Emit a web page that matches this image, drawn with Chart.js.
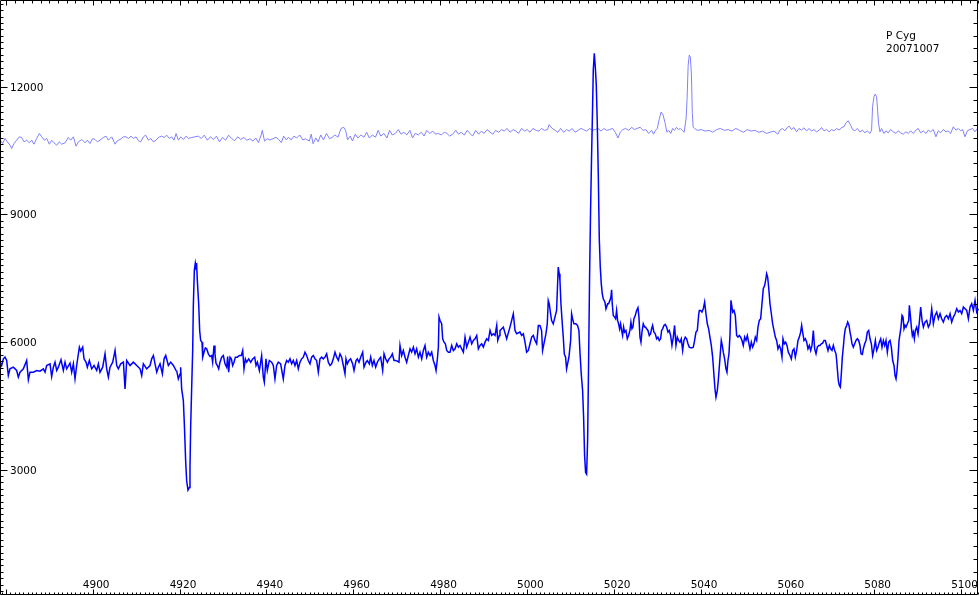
<!DOCTYPE html>
<html>
<head>
<meta charset="utf-8">
<title>P Cyg 20071007</title>
<script src="https://cdn.jsdelivr.net/npm/chart.js@4.4.1/dist/chart.umd.min.js"></script>
<style>
  html, body { margin: 0; padding: 0; background: #fff; }
  #wrap { width: 979px; height: 596px; }
</style>
</head>
<body>
<div id="wrap"><canvas id="chart-spec" width="979" height="596"></canvas></div>
<script>
// P Cyg spectrum (dark) and reference spectrum (light), wavelength in A, counts
const darkWave = [
  4878.65, 4879.03, 4879.42, 4879.80, 4880.19, 4880.57, 4880.95, 4881.72, 4882.49, 4882.87,
  4883.26, 4884.03, 4884.79, 4885.18, 4885.56, 4886.33, 4887.10, 4887.87, 4888.63, 4889.02,
  4889.40, 4890.17, 4890.55, 4890.94, 4891.32, 4891.71, 4892.09, 4892.70, 4893.24, 4893.63,
  4894.01, 4894.78, 4895.16, 4895.55, 4895.93, 4896.31, 4896.93, 4897.24, 4897.70, 4898.00,
  4898.46, 4898.77, 4899.23, 4899.77, 4900.31, 4900.92, 4901.31, 4901.69, 4902.30, 4902.84,
  4903.23, 4903.61, 4903.99, 4904.61, 4905.15, 4905.53, 4905.91, 4906.45, 4907.07, 4907.45,
  4907.83, 4908.60, 4909.37, 4910.14, 4910.91, 4911.29, 4911.67, 4912.44, 4913.21, 4913.59,
  4913.98, 4914.36, 4914.75, 4915.13, 4915.51, 4916.05, 4916.44, 4916.82, 4917.43, 4917.97,
  4918.59, 4919.20,
  4919.34, 4919.72, 4920.11, 4920.26, 4920.49, 4920.88, 4921.11, 4921.41, 4921.64, 4921.95,
  4922.26, 4922.41, 4922.57, 4922.80, 4923.03, 4923.18, 4923.41, 4923.64, 4923.79, 4923.95,
  4924.10, 4924.41, 4924.64, 4924.87, 4925.18, 4925.33, 4925.64, 4925.94, 4926.25, 4926.64,
  4927.02, 4927.40, 4927.63, 4927.94, 4928.17, 4928.40, 4928.71, 4929.02, 4929.32, 4929.71,
  4930.09, 4930.48, 4930.86, 4931.09, 4931.32, 4931.63, 4931.94, 4932.24, 4932.55, 4932.86,
  4933.32, 4933.78, 4934.24, 4934.55, 4934.85, 4935.16, 4935.47, 4935.93, 4936.39, 4936.85,
  4937.31, 4937.62, 4937.93, 4938.39,
  4938.91, 4939.30, 4939.53, 4939.91, 4940.22, 4940.68, 4941.22, 4941.60, 4941.98, 4942.37,
  4942.75, 4943.29, 4943.90, 4944.29, 4944.67, 4945.06, 4945.44, 4945.82, 4946.21, 4946.59,
  4946.98, 4947.36, 4947.74, 4948.13, 4948.51, 4948.90, 4949.28, 4949.66, 4950.05, 4950.43,
  4950.82, 4951.20, 4951.58, 4951.97, 4952.35, 4952.74, 4953.12, 4953.50, 4953.89, 4954.27,
  4954.66, 4955.04, 4955.42, 4955.81, 4956.19, 4956.58, 4956.96, 4957.34, 4957.73, 4958.11,
  4958.34, 4958.65, 4959.03, 4959.42, 4959.88, 4960.19, 4960.65, 4960.95, 4961.34, 4961.72,
  4962.18, 4962.49, 4962.95, 4963.26, 4963.72, 4964.03, 4964.41, 4964.79, 4965.18, 4965.56,
  4966.02, 4966.33, 4966.79, 4967.10, 4967.48, 4967.87, 4968.25, 4968.63, 4969.02, 4969.40,
  4969.79, 4970.17, 4970.55, 4970.78, 4971.17, 4971.55, 4971.94, 4972.32, 4972.70, 4973.09,
  4973.47, 4973.86, 4974.24, 4974.62, 4975.01, 4975.39, 4975.78, 4976.16, 4976.54, 4976.93,
  4977.31, 4977.70, 4978.08, 4978.46, 4978.85, 4979.08, 4979.39, 4979.62, 4979.77, 4980.00,
  4980.38, 4980.61, 4980.92, 4981.23, 4981.54, 4981.92, 4982.30, 4982.69, 4983.07, 4983.46,
  4983.84, 4984.22, 4984.61, 4984.99, 4985.38, 4985.76, 4986.14, 4986.53, 4986.91, 4987.30,
  4987.68, 4988.06, 4988.45, 4988.83, 4989.22, 4989.60, 4989.98, 4990.37, 4990.75, 4991.14,
  4991.52, 4991.90, 4992.29, 4992.67, 4993.06, 4993.29, 4993.67,
  4993.81, 4994.58, 4995.35, 4996.11, 4996.88, 4997.27, 4997.65, 4998.42, 4998.80, 4999.19,
  4999.57, 4999.95, 5000.34, 5000.72, 5001.11, 5001.49, 5001.87, 5002.26, 5002.64,
  5003.01, 5003.39, 5003.62, 5003.93, 5004.39, 5004.70, 5004.93, 5005.16, 5005.47, 5005.70,
  5006.08, 5006.47, 5006.85, 5007.08, 5007.23, 5007.46, 5007.62, 5007.85, 5008.16, 5008.39,
  5008.62, 5008.92, 5009.15, 5009.38, 5009.69, 5010.08, 5010.31, 5010.54, 5010.84, 5011.30,
  5011.69, 5011.99, 5012.23, 5012.53, 5012.84, 5013.07, 5013.30, 5013.53, 5013.76, 5013.99,
  5014.22, 5014.45, 5014.68, 5014.91, 5015.14, 5015.30, 5015.53, 5015.76, 5015.99, 5016.22,
  5016.45, 5016.68, 5016.91, 5017.14, 5017.37, 5017.60, 5017.99, 5018.22,
  5018.37, 5018.60, 5018.83, 5019.13, 5019.36, 5019.52, 5019.67, 5019.90, 5020.21, 5020.44,
  5020.67, 5020.90, 5021.13, 5021.36, 5021.59, 5021.82, 5022.05, 5022.28, 5022.51, 5022.82,
  5023.13, 5023.43, 5023.74, 5023.97, 5024.20, 5024.43, 5024.66, 5024.97, 5025.28, 5025.59,
  5025.82, 5026.05, 5026.28, 5026.51, 5026.81, 5027.12, 5027.35, 5027.58, 5027.89, 5028.20,
  5028.50, 5028.73, 5028.96, 5029.27, 5029.58, 5029.89, 5030.19, 5030.50, 5030.81, 5031.04,
  5031.27, 5031.58, 5031.88, 5032.19, 5032.50, 5032.80, 5033.11, 5033.42, 5033.73, 5034.03,
  5034.34, 5034.65, 5034.95, 5035.26, 5035.57, 5035.88, 5036.18, 5036.49, 5036.80, 5037.11,
  5037.41, 5037.72, 5038.03, 5038.33, 5038.64, 5038.95, 5039.26, 5039.56, 5039.72, 5040.02,
  5040.33, 5040.64, 5040.95, 5041.25, 5041.56, 5041.87, 5042.17, 5042.48, 5042.79, 5043.10,
  5043.33, 5043.56, 5043.86, 5044.09, 5044.32, 5044.55, 5044.78, 5045.01, 5045.24, 5045.55,
  5045.86, 5046.09, 5046.32, 5046.55, 5046.78, 5047.01, 5047.24, 5047.40, 5047.70, 5048.01,
  5048.32, 5048.63, 5048.93, 5049.24, 5049.55, 5049.85, 5050.16, 5050.47, 5050.78, 5051.08,
  5051.39, 5051.70, 5052.00, 5052.31, 5052.62, 5052.93, 5053.23, 5053.54, 5053.85, 5054.15,
  5054.46, 5054.77, 5055.00, 5055.23, 5055.46, 5055.69, 5056.00, 5056.31, 5056.61, 5056.92,
  5057.23, 5057.53, 5057.84, 5058.15, 5058.46, 5058.76, 5058.99, 5059.30, 5059.61, 5059.91,
  5060.22, 5060.61, 5060.91, 5061.22, 5061.53, 5061.83, 5062.14, 5062.45, 5062.76, 5063.06,
  5063.29, 5063.52, 5063.83, 5064.14, 5064.45, 5064.75, 5065.06, 5065.37, 5065.67, 5065.98,
  5066.29, 5066.60, 5066.90, 5067.21, 5067.52, 5067.82, 5068.13, 5068.44, 5068.75, 5069.05,
  5069.36, 5069.67, 5069.97, 5070.28, 5070.59, 5070.90, 5071.20, 5071.36, 5071.51, 5071.74,
  5071.97, 5072.20, 5072.43, 5072.66, 5072.89, 5073.12, 5073.35, 5073.66, 5073.89, 5074.20,
  5074.43, 5074.66, 5074.89, 5075.20, 5075.50, 5075.81, 5076.12, 5076.43, 5076.73, 5076.96,
  5077.27, 5077.50, 5077.81, 5078.12, 5078.42, 5078.73, 5079.04, 5079.35, 5079.65, 5079.96,
  5080.27, 5080.57, 5080.88, 5081.19, 5081.50, 5081.80, 5082.11, 5082.42, 5082.72, 5083.03,
  5083.34, 5083.65, 5083.95, 5084.26, 5084.57, 5084.80, 5085.03, 5085.26, 5085.49, 5085.72,
  5085.95, 5086.18, 5086.41, 5086.64, 5086.87, 5087.10, 5087.33, 5087.64, 5087.95, 5088.10,
  5088.33, 5088.56, 5088.79, 5089.02, 5089.25, 5089.48, 5089.79, 5090.10, 5090.40, 5090.71,
  5091.02, 5091.33, 5091.71, 5092.09, 5092.48, 5092.86, 5093.25, 5093.63, 5094.01, 5094.40,
  5094.78, 5095.17, 5095.55, 5095.93, 5096.32, 5096.70, 5097.09, 5097.47, 5097.85, 5098.24,
  5098.62, 5099.01, 5099.39, 5099.77, 5100.16, 5100.54, 5100.93, 5101.31, 5101.69, 5102.08,
  5102.46, 5102.85, 5103.23, 5103.61, 5104.00
];
const darkFlux = [
  5527, 5448, 5605, 5645, 5566, 5213, 5370, 5409, 5331, 5174,
  5291, 5370, 5566, 5111, 5291, 5291, 5331, 5315, 5370, 5291,
  5448, 5488, 5189, 5409, 5527, 5331, 5409, 5582, 5331, 5527,
  5370, 5503, 5291, 5488, 5134, 5448, 5880, 5786, 5880, 5605,
  5527, 5409, 5566, 5370, 5448, 5331, 5488, 5291, 5409, 5723,
  5370, 5174, 5409, 5527, 5802, 5448, 5370, 5488, 5527, 4899,
  5566, 5448, 5527, 5448, 5370, 5213, 5488, 5370, 5448, 5605,
  5684, 5488, 5291, 5409, 5488, 5252, 5605, 5684, 5448, 5527,
  5448, 5331,
  5330, 5133, 5251, 5408, 4898, 4623, 4074, 3210, 2739, 2519,
  2582, 3053, 4034, 4937, 5801, 6860, 7684, 7857, 7763, 7802,
  7449, 6900, 6272, 6036, 5997, 5644, 5761, 5863, 5840, 5722,
  5659, 5683, 5526, 5918, 5722, 5502, 5447, 5369, 5526, 5644,
  5683, 5487, 5408, 5659, 5290, 5644, 5604, 5447, 5526, 5644,
  5644, 5683, 5683, 5801, 5369, 5604, 5526, 5604, 5526, 5604,
  5644, 5447, 5526, 5330,
  5683, 5173, 5055, 5605, 5330, 5566, 5526, 5448, 5134, 5448,
  5526, 5487, 5134, 5448, 5566, 5526, 5605, 5487, 5566, 5448,
  5566, 5369, 5526, 5605, 5644, 5762, 5683, 5566, 5487, 5644,
  5683, 5605, 5566, 5291, 5605, 5644, 5605, 5644, 5723, 5526,
  5448, 5487, 5605, 5762, 5644, 5566, 5723, 5644, 5448, 5252,
  5605, 5487, 5566, 5605, 5487, 5330, 5566, 5605, 5526, 5644,
  5762, 5409, 5526, 5566, 5487, 5644, 5448, 5566, 5409, 5526,
  5605, 5644, 5330, 5723, 5605, 5526, 5605, 5644, 5723, 5566,
  5566, 5550, 5526, 5919, 5683, 5801, 5644, 5526, 5683, 5840,
  5762, 5880, 5723, 5840, 5644, 5762, 5605, 5801, 5919, 5644,
  5762, 5683, 5762, 5566, 5448, 5330, 5605, 5880, 6586, 6507,
  6429, 6076, 5997, 5958, 5801, 5762, 5762, 5919, 5801, 5840,
  5958, 5880, 5919, 5840, 5762, 6115, 5880, 5997, 6115, 5958,
  6037, 6076, 6154, 5840, 5919, 5958, 5880, 5997, 6076, 6037,
  6272, 6154, 6194, 6154, 6390, 6037, 6154,
  6272, 6351, 6076, 6351, 6665, 6272, 6194, 6233, 6155, 6194,
  5998, 5762, 5802, 5959, 6116, 6155, 6037, 5959, 6390,
  6387, 6270, 5799, 5956, 6191, 6427, 6976, 6898, 6662, 6505,
  6427, 6584, 6741, 7368, 7761, 7604, 7447, 6898, 6427, 6113,
  5720, 5642, 5367, 5485, 5642, 6034, 6662, 6544, 6427, 6427,
  6387, 6270, 5759, 5249, 4857, 4229, 3326, 2933, 2894, 3679,
  5524, 7565, 9135, 10391, 11529, 12393, 12785, 12471, 12039, 11137,
  9959, 8428, 7761, 7368, 7133, 7015, 6937, 6780,
  6822, 6900, 6900, 6979, 7057, 7230, 6900, 6625, 6586, 6547,
  6743, 6508, 6429, 6311, 6429, 6272, 6154, 6351, 6233, 6272,
  6076, 6154, 6272, 6468, 6311, 6351, 6547, 6625, 6743, 6806,
  6586, 6115, 5997, 6233, 6429, 6351, 6351, 6311, 6272, 6154,
  6194, 6311, 6390, 6233, 6194, 6076, 6115, 6037, 6076, 6272,
  6311, 6390, 6413, 6351, 6233, 6272, 6154, 5919, 6115, 6390,
  5919, 6115, 6037, 5997, 6076, 5801, 6037, 6115, 6076, 5958,
  5880, 5864, 5864, 5880, 6037, 6233, 6272, 6625, 6743, 6743,
  6704, 6782, 6939, 6665, 6429, 6311, 6115, 5919, 5644, 5212,
  4898, 4702, 4859, 5095, 5408, 5723, 6037, 5919, 5762, 5605,
  5369, 5291, 5566, 5723, 6154, 6979, 6822, 6704, 6743, 6625,
  6154, 6115, 6154, 6115, 6037, 5919, 6115, 6037, 6154, 5997,
  5840, 5997, 5880, 5958, 6115, 6037, 6351, 6508, 6547, 6900,
  7253, 7332, 7450, 7607, 7528, 7293, 6900, 6665, 6429, 6272,
  6115, 6037, 5840, 5919, 5840, 5644, 6076, 5958, 5997, 5919,
  5762, 5683, 5605, 5801, 5840, 5644, 5801, 6037, 6115, 6233,
  6390, 6233, 6037, 6076, 5997, 5840, 5919, 5801, 5919, 6272,
  5840, 5723, 5880, 5919, 5919, 5958, 5974, 6037, 6037, 5919,
  5801, 5919, 5840, 5801, 5919, 5801, 5723, 5566, 5369, 5095,
  4977, 4938, 5252, 5644, 5880, 6154, 6311, 6390, 6468, 6390,
  6233, 6115, 5958, 5880, 5958, 6037, 6076, 6037, 5919, 5723,
  5707, 5840, 5958, 6037, 6233, 6272, 6076, 5958, 5683, 5840,
  6037, 5801, 5880, 5997, 6076, 5880, 6037, 5919, 6037, 5762,
  5997, 6037, 5880, 5566, 5448, 5212, 5134, 5330, 5644, 6037,
  6194, 6351, 6625, 6586, 6311, 6390, 6351, 6429, 6508, 6861,
  6625, 6351, 6154, 6233, 6076, 6272, 6351, 6194, 6468, 6822,
  6508, 6351, 6468, 6508, 6351, 6429, 6782, 6429, 6625, 6704,
  6547, 6665, 6547, 6468, 6586, 6625, 6547, 6665, 6468, 6586,
  6665, 6782, 6704, 6743, 6665, 6822, 6782, 6743, 6547, 6822,
  6900, 6743, 6979, 6704, 6782
];

const lightWave = [
  4878.65, 4879.26, 4879.80, 4880.34, 4880.95, 4881.34, 4881.88, 4882.49, 4883.10, 4883.64,
  4884.18, 4884.79, 4885.41, 4885.95, 4886.48, 4887.10, 4887.71, 4888.25, 4888.86, 4889.40,
  4890.02, 4890.55, 4891.09, 4891.71, 4892.32, 4892.86, 4893.63, 4894.39, 4894.93, 4895.55,
  4896.16, 4896.70, 4897.47, 4898.23, 4898.77, 4899.39, 4900.00, 4900.54, 4901.08, 4901.69,
  4902.46, 4903.07, 4903.61, 4904.38, 4905.15, 4905.68, 4906.30, 4907.07, 4907.68, 4908.22,
  4908.83, 4909.37, 4909.98, 4910.52, 4911.06, 4911.67, 4912.21, 4912.83, 4913.36, 4913.98,
  4914.59, 4915.13, 4915.90, 4916.44, 4917.05, 4917.66, 4918.20, 4918.74, 4919.20, 4919.74,
  4920.28, 4920.89, 4921.50, 4922.04, 4922.81, 4923.58, 4924.35,
  4925.00, 4925.70, 4926.40, 4927.10, 4927.80, 4928.50, 4929.20, 4929.90, 4930.60, 4931.30,
  4932.00, 4932.70, 4933.40, 4934.10, 4934.80, 4935.50,
  4936.23, 4936.93, 4937.55, 4938.17, 4938.87, 4939.05, 4939.58, 4940.19, 4940.81, 4941.52,
  4942.22, 4942.84, 4943.45, 4943.98, 4944.60, 4945.04, 4945.74, 4946.36, 4946.98, 4947.68,
  4948.39, 4949.00, 4949.89, 4950.33, 4950.77, 4951.38, 4951.91, 4952.53, 4953.15, 4953.85,
  4954.55, 4955.17, 4955.79, 4956.49, 4957.20, 4957.81, 4958.25, 4958.70, 4959.31, 4959.84,
  4960.46, 4961.07, 4961.78, 4962.48, 4963.10, 4963.72, 4964.42, 4965.13, 4965.74, 4966.36,
  4967.07, 4967.77, 4968.39, 4969.00, 4969.71, 4970.41, 4971.03, 4971.65, 4972.35, 4973.06,
  4973.67, 4974.29, 4974.99, 4975.70, 4976.32, 4976.93, 4977.64, 4978.34, 4978.96, 4979.58,
  4980.28, 4980.98, 4981.60, 4982.22, 4982.92, 4983.63, 4984.24, 4984.86, 4985.57, 4986.27,
  4986.89, 4987.50, 4988.21, 4988.91, 4989.53, 4990.15, 4990.85, 4991.56, 4992.17, 4992.79,
  4993.50, 4994.20, 4994.82, 4995.43, 4996.14, 4996.84, 4997.46, 4998.08, 4998.78, 4999.49,
  5000.10, 5000.72, 5001.42, 5002.13, 5002.75, 5003.36, 5004.07, 5004.77, 5005.12, 5005.83,
  5006.53, 5007.15, 5007.77, 5008.47, 5009.18, 5009.79, 5010.41, 5011.12, 5011.82, 5012.44,
  5013.05, 5013.76, 5014.46, 5015.08, 5015.70, 5016.40, 5017.11, 5017.72, 5018.34, 5019.04,
  5019.75, 5020.37, 5020.98, 5021.51, 5022.13, 5022.74, 5023.45, 5024.15, 5024.77, 5025.39,
  5026.09, 5026.80, 5027.41, 5028.03, 5028.74, 5029.18, 5029.62, 5030.06, 5030.50, 5030.94,
  5031.38, 5031.82, 5032.26, 5032.70, 5033.14, 5033.58, 5034.02, 5034.46, 5034.90, 5035.34,
  5035.78, 5036.22, 5036.67, 5036.90, 5037.15, 5037.40, 5037.65, 5037.90, 5038.10, 5038.30,
  5038.60, 5039.31, 5040.19, 5041.07, 5041.95, 5042.83, 5043.71, 5044.59, 5045.47, 5046.35,
  5047.24, 5048.12, 5049.00, 5049.88, 5050.76, 5051.64, 5052.52, 5053.40, 5054.28, 5055.17,
  5056.05, 5056.93, 5057.81,
  5058.28, 5058.89, 5059.43, 5059.97, 5060.43, 5060.97, 5061.51, 5062.12, 5062.66, 5063.27,
  5063.81, 5064.42, 5065.04, 5065.58, 5066.11, 5066.73, 5067.34, 5067.88, 5068.42, 5069.03,
  5069.65, 5070.18, 5070.72, 5071.34, 5071.95, 5072.49, 5073.03, 5073.49, 5074.02, 5074.56,
  5075.02, 5075.56, 5076.10, 5076.71, 5077.33, 5077.86, 5078.40, 5079.02, 5079.40, 5079.63,
  5079.94, 5080.24, 5080.55, 5080.78, 5081.01, 5081.32, 5081.70, 5082.24, 5082.70, 5083.24,
  5083.78, 5084.39, 5085.01, 5085.54, 5086.08, 5086.70, 5087.31, 5087.85, 5088.39, 5089.00,
  5089.61, 5090.15, 5090.69, 5091.30, 5091.92, 5092.46, 5093.00, 5093.61, 5094.22, 5094.76,
  5095.30, 5095.91, 5096.53, 5097.06, 5097.60, 5098.22, 5098.83, 5099.37, 5099.91, 5100.37,
  5100.91, 5101.44, 5102.06, 5102.67, 5103.21, 5103.75
];
const lightFlux = [
  10745, 10667, 10785, 10706, 10628, 10549, 10667, 10745, 10824, 10808,
  10706, 10745, 10683, 10745, 10651, 10785, 10902, 10824, 10745, 10785,
  10651, 10745, 10683, 10628, 10706, 10651, 10683, 10808, 10745, 10824,
  10604, 10706, 10761, 10683, 10745, 10667, 10785, 10761, 10706, 10745,
  10808, 10839, 10745, 10824, 10651, 10730, 10761, 10824, 10824, 10785,
  10839, 10785, 10824, 10730, 10706, 10824, 10863, 10745, 10785, 10706,
  10745, 10808, 10839, 10808, 10863, 10785, 10824, 10745, 10902, 10745,
  10824, 10761, 10839, 10785, 10808, 10824, 10839,
  10785, 10863, 10745, 10824, 10761, 10839, 10706, 10808, 10745, 10863,
  10785, 10730, 10824, 10761, 10808, 10745,
  10778, 10724, 10796, 10688, 10886, 10976, 10724, 10778, 10751, 10778,
  10814, 10760, 10688, 10841, 10751, 10814, 10751, 10841, 10796, 10868,
  10751, 10778, 10724, 10886, 10661, 10796, 10706, 10868, 10751, 10904,
  10778, 10814, 10868, 10814, 11021, 11048, 10976, 10751, 10841, 10724,
  10886, 10796, 10868, 10814, 10931, 10796, 10868, 10814, 10976, 10841,
  10904, 10796, 10976, 10868, 10904, 10994, 10886, 10931, 10868, 10976,
  10796, 10904, 10868, 10931, 10841, 10976, 10904, 10958, 10886, 10904,
  10868, 10931, 10904, 10841, 10886, 10976, 10886, 10931, 10868, 10976,
  10904, 10841, 10976, 10886, 10958, 10904, 10994, 10931, 10886, 10976,
  10931, 10994, 10958, 11021, 10931, 10994, 10958, 10904, 11021, 10958,
  10994, 10931, 11021, 10976, 10958, 11021, 10976, 10994, 11111, 11021,
  10976, 10931, 11021, 10931, 10994, 10958, 11021, 10931, 10976, 11021,
  10994, 10958, 11021, 10976, 10994, 11021, 10958, 11021, 10976, 10994,
  11021, 10931, 10796, 10931, 10994, 11021, 10976, 11048, 10994, 11021,
  11048, 10976, 10994, 10904, 10976, 10886, 10976, 11021, 11246, 11408,
  11336, 11156, 10931, 10976, 10904, 11021, 10976, 11048, 10994, 11021,
  10976, 10931, 11246, 11700, 12500, 12746, 12700, 12300, 11400, 11050,
  11021, 10976, 10994, 10958, 10976, 10931, 10994, 11021, 10976, 10994,
  10958, 11021, 10976, 10931, 10994, 10958, 10976, 10931, 10958, 10904,
  10931, 10958, 10886,
  10981, 11020, 10965, 11043, 11075, 10996, 11043, 10941, 11020, 10981,
  11035, 10965, 11020, 10957, 10996, 10941, 10981, 11043, 10965, 10996,
  10941, 10996, 10965, 11020, 10981, 11043, 11059, 11153, 11200, 11098,
  10996, 10965, 11020, 10941, 10981, 10918, 10965, 10902, 10981, 11530,
  11765, 11828, 11765, 11451, 11138, 10941, 11020, 10902, 10965, 10918,
  10996, 10941, 10902, 10965, 10918, 10887, 10941, 10902, 10965, 10902,
  10981, 11020, 10918, 10965, 10902, 10981, 10941, 10996, 10824, 10965,
  10918, 10996, 10941, 10965, 10902, 11059, 10981, 11020, 10965, 10996,
  10824, 10965, 10996, 11020, 10941, 11020
];

const xTickLabels = [4900, 4920, 4940, 4960, 4980, 5000, 5020, 5040, 5060, 5080, 5100];
const yTickLabels = [3000, 6000, 9000, 12000];
const noteLines = ['P Cyg', '20071007'];

const X_MIN = 4878.65;
const X_MAX = 5104.14;
const Y_MIN = 30;
const Y_MAX = 14040;

function toPoints(xs, ys) {
  const n = Math.min(xs.length, ys.length);
  const out = [];
  for (let i = 0; i < n; i++) out.push({ x: xs[i], y: ys[i] });
  return out;
}

// frame with inward ticks and labels inside the plot, placed through the chart scales
const framePlugin = {
  id: 'frame',
  afterDatasetsDraw(chart) {
    const { ctx, chartArea, scales } = chart;
    const xs = scales.x;
    const ys = scales.y;
    const left = chartArea.left + 0.5;
    const top = chartArea.top + 0.5;
    const right = chartArea.right - 1.5;
    const bottom = chartArea.bottom - 1.5;

    ctx.save();
    ctx.strokeStyle = '#000';
    ctx.lineWidth = 1;
    ctx.beginPath();
    ctx.rect(left, top, right - left, bottom - top);
    for (let v = Math.ceil(X_MIN); v <= X_MAX; v++) {
      const px = Math.round(xs.getPixelForValue(v)) + 0.5;
      const major = v % 20 === 0;
      ctx.moveTo(px, bottom);
      ctx.lineTo(px, bottom - (major ? 5 : 2));
      if (v % 2 === 0) {
        ctx.moveTo(px, top);
        ctx.lineTo(px, top + (major ? 5 : 3));
      }
    }
    for (let v = 150; v <= Y_MAX; v += 150) {
      const py = Math.round(ys.getPixelForValue(v)) + 0.5;
      const major = v % 3000 === 0;
      ctx.moveTo(left, py);
      ctx.lineTo(left + (major ? 7 : 3), py);
      if (v % 300 === 0) {
        ctx.moveTo(right, py);
        ctx.lineTo(right - (major ? 8 : 4), py);
      }
    }
    ctx.stroke();

    ctx.fillStyle = '#000';
    ctx.font = '10.5px "DejaVu Sans"';
    ctx.textBaseline = 'alphabetic';
    ctx.textAlign = 'center';
    xTickLabels.forEach((v) => {
      ctx.fillText(String(v), xs.getPixelForValue(v) + 3.5, bottom - 6.5);
    });
    ctx.textAlign = 'left';
    yTickLabels.forEach((v) => {
      ctx.fillText(String(v), 10, ys.getPixelForValue(v) + 4);
    });
    noteLines.forEach((t, i) => ctx.fillText(t, 886, 39 + i * 12.7));
    ctx.restore();
  }
};

new Chart(document.getElementById('chart-spec'), {
  type: 'line',
  data: {
    datasets: [
      {
        label: 'P Cyg',
        data: toPoints(darkWave, darkFlux),
        borderColor: '#0000ff',
        borderWidth: 1.5,
        pointRadius: 0,
        tension: 0,
        fill: false
      },
      {
        label: 'reference',
        data: toPoints(lightWave, lightFlux),
        borderColor: '#8080ff',
        borderWidth: 1,
        pointRadius: 0,
        tension: 0,
        fill: false
      }
    ]
  },
  options: {
    responsive: false,
    animation: false,
    devicePixelRatio: 1,
    parsing: false,
    layout: { padding: 0 },
    plugins: { legend: { display: false }, tooltip: { enabled: false } },
    scales: {
      x: { type: 'linear', min: X_MIN, max: X_MAX, display: false },
      y: { type: 'linear', min: Y_MIN, max: Y_MAX, display: false }
    }
  },
  plugins: [framePlugin]
});
</script>
</body>
</html>
